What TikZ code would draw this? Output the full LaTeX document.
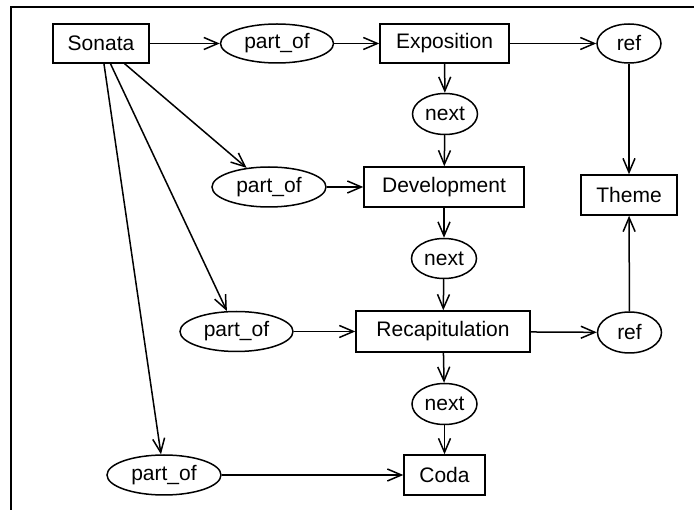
\documentclass[tikz,border=0pt]{standalone}
\usepackage{fontspec}
\setmainfont{Liberation Sans}
\usetikzlibrary{shapes.geometric,arrows.meta}
\begin{document}
\begin{tikzpicture}[x=1pt,y=-1pt,
  every node/.style={font=\fontsize{21}{24}\selectfont, inner sep=0pt, line width=1.5pt},
  box/.style={draw, rectangle, minimum height=39pt},
  oval/.style={draw, ellipse, minimum height=39pt},
  conn/.style={draw, line width=1.5pt, -{Straight Barb[length=14pt,width=12pt,line width=1.5pt]}}]
\useasboundingbox (0,0) rectangle (694,510);
\draw[line width=1.5pt] (11,512) -- (11,7) -- (696,7);
\node[box, minimum width=96pt] (sonata) at (101,43.5) {Sonata};
\node[oval, minimum width=113pt] (p1) at (277,43.5) {part\_of};
\node[box, minimum width=129pt] (expo) at (444.5,43.5) {Exposition};
\node[oval, minimum width=64pt] (ref1) at (629,43.5) {ref};
\node[oval, minimum width=65pt, minimum height=41pt] (next1) at (445,114) {next};
\node[box, minimum width=160pt, minimum height=40pt] (dev) at (444,187) {Development};
\node[oval, minimum width=114pt, minimum height=40pt] (p2) at (269,187) {part\_of};
\node[box, minimum width=96pt, minimum height=40pt] (theme) at (629,195) {Theme};
\node[oval, minimum width=65pt, minimum height=40pt] (next2) at (444,258.5) {next};
\node[oval, minimum width=113pt, minimum height=40pt] (p3) at (236.5,331.5) {part\_of};
\node[box, minimum width=174pt, minimum height=41pt] (recap) at (443,331.5) {Recapitulation};
\node[oval, minimum width=64pt, minimum height=41pt] (ref2) at (629.5,332.5) {ref};
\node[oval, minimum width=65pt, minimum height=41pt] (next3) at (444.5,404) {next};
\node[box, minimum width=81pt, minimum height=40pt] (coda) at (444.5,475) {Coda};
\node[oval, minimum width=114pt, minimum height=40pt] (p4) at (164,475) {part\_of};
\path[conn] (sonata) -- (p1);
\path[conn] (p1) -- (expo);
\path[conn] (expo) -- (ref1);
\path[conn] (ref1) -- (theme);
\path[conn] (expo) -- (next1);
\path[conn] (next1) -- (dev);
\path[conn] (p2) -- (dev);
\path[conn] (dev) -- (next2);
\path[conn] (next2) -- (recap);
\path[conn] (p3) -- (recap);
\path[conn] (recap) -- (ref2);
\path[conn] (ref2) -- (theme);
\path[conn] (recap) -- (next3);
\path[conn] (next3) -- (coda);
\path[conn] (p4) -- (coda);
\path[conn] (sonata) -- (p2);
\path[conn] (sonata) -- (p3);
\path[conn] (sonata) -- (p4);
\end{tikzpicture}
\end{document}
